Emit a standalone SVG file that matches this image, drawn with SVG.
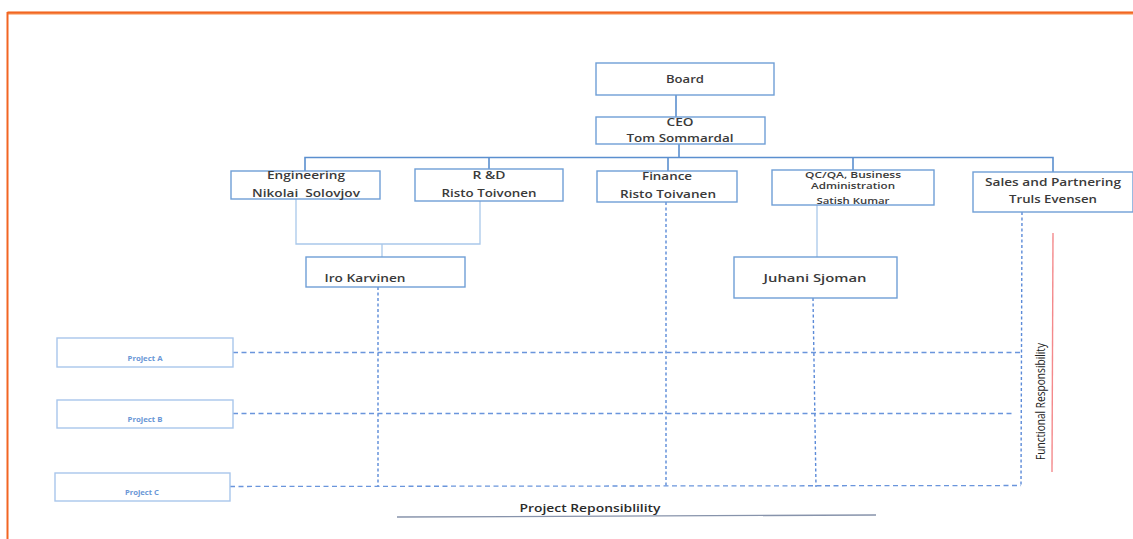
<svg xmlns="http://www.w3.org/2000/svg" width="1133" height="539" viewBox="0 0 1133 539">
  <style>
    .box { fill: #ffffff; stroke: #6f9fd6; stroke-width: 1.4; }
    .pbox { fill: #ffffff; stroke: #a9c6ec; stroke-width: 1.4; }
    .t { font-family: "Open Sans", "Liberation Sans", sans-serif; font-size: 11px; font-weight: 600; fill: #3a3a3a; text-anchor: middle; }
    .ts { font-family: "Open Sans", "Liberation Sans", sans-serif; font-size: 9px; font-weight: 600; fill: #3a3a3a; text-anchor: middle; }
    .tp { font-family: "Open Sans", "Liberation Sans", sans-serif; font-size: 7px; font-weight: bold; fill: #6a97d6; text-anchor: middle; }
    .solid { fill: none; stroke: #5b8fcf; stroke-width: 1.6; }
    .light { fill: none; stroke: #a9c8ea; stroke-width: 1.3; }
    .dashv { fill: none; stroke: #5b8ad8; stroke-width: 1.4; stroke-dasharray: 3 2.5; }
    .dashh { fill: none; stroke: #6a95dc; stroke-width: 1.3; stroke-dasharray: 5 3.5; }
  </style>

  <!-- frame -->
  <g id="frame">
    <line x1="7.5" y1="13" x2="1133" y2="13" stroke="#f58b4c" stroke-width="3"/>
    <line x1="7.5" y1="12.5" x2="1133" y2="12.5" stroke="#f26522" stroke-width="1.6"/>
    <line x1="7.5" y1="12" x2="7.5" y2="539" stroke="#f26522" stroke-width="2"/>
  </g>

  <!-- connectors -->
  <g id="connectors">
    <line class="solid" x1="676" y1="95" x2="676" y2="117"/>
    <path class="solid" d="M679 144 V157.5 M305 171 V157.5 H1053 V172 M489 157.5 V169 M668 157.5 V171 M853 157.5 V170"/>
    <path class="light" d="M296 199 V244 H480 V201 M382 244 V257"/>
    <line class="light" x1="817" y1="205" x2="817" y2="257" stroke="#8fb6e4"/>
    <!-- functional dashed lines -->
    <line class="dashv" x1="378" y1="287" x2="378" y2="487"/>
    <line class="dashv" x1="666" y1="202" x2="666" y2="487"/>
    <line class="dashv" x1="813" y1="298" x2="816" y2="487"/>
    <line class="dashv" x1="1022" y1="212" x2="1021" y2="485"/>
    <!-- project dashed lines -->
    <line class="dashh" x1="233" y1="352.5" x2="1022" y2="352.5"/>
    <line class="dashh" x1="233" y1="413.5" x2="1013" y2="413.5"/>
    <line class="dashh" x1="230" y1="486.5" x2="1021" y2="485.5"/>
    <!-- axis markers -->
    <line x1="1053" y1="233" x2="1052" y2="472" stroke="#f4898b" stroke-width="1.4"/>
    <line x1="397" y1="517" x2="876" y2="515" stroke="#8793ab" stroke-width="1.3"/>
  </g>

  <g id="board">
    <rect class="box" x="596" y="63" width="178" height="32"/>
    <text class="t" x="685" y="83" textLength="38" lengthAdjust="spacingAndGlyphs">Board</text>
  </g>

  <g id="ceo">
    <rect class="box" x="596" y="117" width="169" height="27"/>
    <text class="t" x="680" y="126" textLength="27" lengthAdjust="spacingAndGlyphs">CEO</text>
    <text class="t" x="680" y="142" textLength="107" lengthAdjust="spacingAndGlyphs">Tom Sommardal</text>
  </g>

  <g id="engineering">
    <rect class="box" x="231" y="171" width="149" height="28"/>
    <text class="t" x="306" y="179" textLength="78" lengthAdjust="spacingAndGlyphs">Engineering</text>
    <text class="t" x="306" y="197" textLength="108" lengthAdjust="spacingAndGlyphs" xml:space="preserve">Nikolai  Solovjov</text>
  </g>

  <g id="rnd">
    <rect class="box" x="415" y="169" width="148" height="32"/>
    <text class="t" x="489" y="179" textLength="33" lengthAdjust="spacingAndGlyphs">R &amp;D</text>
    <text class="t" x="489" y="197" textLength="95" lengthAdjust="spacingAndGlyphs">Risto Toivonen</text>
  </g>

  <g id="finance">
    <rect class="box" x="597" y="171" width="140" height="31"/>
    <text class="t" x="667" y="180" textLength="50" lengthAdjust="spacingAndGlyphs">Finance</text>
    <text class="t" x="668" y="198" textLength="96" lengthAdjust="spacingAndGlyphs">Risto Toivanen</text>
  </g>

  <g id="qcqa">
    <rect class="box" x="772" y="170" width="162" height="35"/>
    <text class="ts" x="853" y="177.5" textLength="96" lengthAdjust="spacingAndGlyphs">QC/QA, Business</text>
    <text class="ts" x="853" y="188.5" textLength="84" lengthAdjust="spacingAndGlyphs">Administration</text>
    <text class="ts" x="853" y="204" textLength="73" lengthAdjust="spacingAndGlyphs">Satish Kumar</text>
  </g>

  <g id="sales">
    <rect class="box" x="973" y="172" width="160" height="40"/>
    <text class="t" x="1053" y="186" textLength="136" lengthAdjust="spacingAndGlyphs">Sales and Partnering</text>
    <text class="t" x="1053" y="203" textLength="88" lengthAdjust="spacingAndGlyphs">Truls Evensen</text>
  </g>

  <g id="iro">
    <rect class="box" x="306" y="257" width="159" height="30"/>
    <text class="t" x="365" y="282" textLength="81" lengthAdjust="spacingAndGlyphs">Iro Karvinen</text>
  </g>

  <g id="juhani">
    <rect class="box" x="734" y="257" width="163" height="41"/>
    <text class="t" x="815" y="282" textLength="103" lengthAdjust="spacingAndGlyphs">Juhani Sjoman</text>
  </g>

  <g id="project-a">
    <rect class="pbox" x="57" y="338" width="176" height="29"/>
    <text class="tp" x="145" y="361" textLength="35" lengthAdjust="spacingAndGlyphs">Project A</text>
  </g>

  <g id="project-b">
    <rect class="pbox" x="57" y="400" width="176" height="28"/>
    <text class="tp" x="145" y="422" textLength="35" lengthAdjust="spacingAndGlyphs">Project B</text>
  </g>

  <g id="project-c">
    <rect class="pbox" x="55" y="473" width="175" height="28"/>
    <text class="tp" x="142" y="495" textLength="34" lengthAdjust="spacingAndGlyphs">Project C</text>
  </g>

  <g id="labels">
    <text class="t" x="590" y="512" textLength="141" lengthAdjust="spacingAndGlyphs" style="fill:#2b2b2b">Project Reponsiblility</text>
    <text class="t" x="0" y="0" transform="translate(1045 401.5) rotate(-90)" textLength="117" lengthAdjust="spacingAndGlyphs" style="font-size:12px;font-weight:normal;fill:#222222">Functional Responsibility</text>
  </g>
</svg>
